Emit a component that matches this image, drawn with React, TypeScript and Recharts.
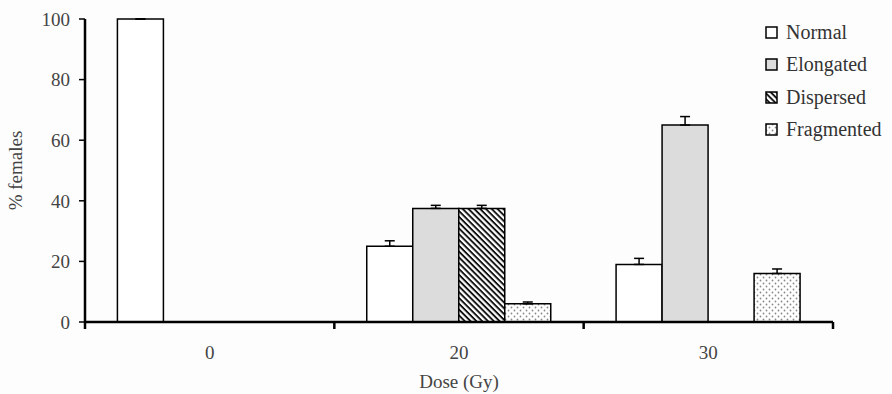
import React from 'react';
import { BarChart, Bar, XAxis, YAxis, ErrorBar, Label } from 'recharts';

const categories = ['0', '20', '30'];
const normal = [100, 25, 19];
const normalErr = [0, 1.8, 2];
const elongated = [null, 37.5, 65];
const elongatedErr = [0, 1, 2.8];
const dispersed = [null, 37.5, null];
const dispersedErr = [0, 1, 0];
const fragmented = [null, 6, 16];
const fragmentedErr = [0, 0.6, 1.5];
const yTicks = [0, 20, 40, 60, 80, 100];
const seriesNames = ['Normal', 'Elongated', 'Dispersed', 'Fragmented'];

const data = categories.map((c, i) => ({
  dose: c,
  Normal: normal[i],
  NormalErr: [0, normalErr[i]],
  Elongated: elongated[i],
  ElongatedErr: [0, elongatedErr[i]],
  Dispersed: dispersed[i],
  DispersedErr: [0, dispersedErr[i]],
  Fragmented: fragmented[i],
  FragmentedErr: [0, fragmentedErr[i]],
}));

const W = 892;
const H = 394;
const MARGIN = { top: 19, right: 59, left: 0, bottom: 0 };
const Y_AXIS_W = 85;
const X_AXIS_H = 72;
const PLOT_W = W - MARGIN.left - MARGIN.right - Y_AXIS_W;
const BAND = PLOT_W / categories.length;
const FONT = '"Liberation Serif", "Times New Roman", serif';

const fills: Record<string, string> = {
  Normal: '#ffffff',
  Elongated: '#dcdcdc',
  Dispersed: 'url(#hatch)',
  Fragmented: 'url(#dots)',
};

const PatternDefs = ({ suffix = '' }: { suffix?: string }) => (
  <defs>
    <pattern id={'hatch' + suffix} patternUnits="userSpaceOnUse" width="6" height="4.1" patternTransform="rotate(45)">
      <rect x="0" y="0" width="6" height="4.1" fill="#ffffff" />
      <rect x="0" y="0" width="6" height="1.9" fill="#111111" />
    </pattern>
    <pattern id={'dots' + suffix} patternUnits="userSpaceOnUse" width="6" height="6">
      <rect x="0" y="0" width="6" height="6" fill="#ffffff" />
      <circle cx="1.5" cy="1.5" r="0.9" fill="#8a8a8a" />
      <circle cx="4.5" cy="4.5" r="0.9" fill="#8a8a8a" />
    </pattern>
  </defs>
);

const XTick = (props: any) => {
  const { x, y, payload, index } = props;
  const half = BAND / 2;
  return (
    <g>
      {index === 0 && <line x1={x - half} x2={x - half} y1={y} y2={y + 7} stroke="#000" strokeWidth={2.5} />}
      <line x1={x + half} x2={x + half} y1={y} y2={y + 7} stroke="#000" strokeWidth={2.5} />
      <text x={x} y={y + 33} textAnchor="middle" dominantBaseline="middle" fontSize={19} fontFamily={FONT} fill="#444">
        {payload.value}
      </text>
    </g>
  );
};

const LegendBox = () => (
  <div style={{ position: 'absolute', left: 765, top: 16, fontFamily: FONT, fontSize: 20, color: '#333' }}>
    {seriesNames.map((n, i) => (
      <div key={n} style={{ display: 'flex', alignItems: 'center', height: 32.5, whiteSpace: 'nowrap' }}>
        <svg width={13} height={13} style={{ marginRight: 8 }}>
          <PatternDefs suffix={'L' + i} />
          <rect
            x={1}
            y={1}
            width={11}
            height={11}
            fill={n === 'Dispersed' ? `url(#hatchL${i})` : n === 'Fragmented' ? `url(#dotsL${i})` : fills[n]}
            stroke="#000"
            strokeWidth={1.5}
          />
        </svg>
        <span>{n}</span>
      </div>
    ))}
  </div>
);

export default function App() {
  return (
    <div style={{ position: 'absolute', left: 0, top: 0, width: W, height: H, background: '#fdfdfd', overflow: 'hidden' }}>
      <BarChart width={W} height={H} data={data} margin={MARGIN} barCategoryGap="13%" barGap={0}>
        <PatternDefs />
        <XAxis
          dataKey="dose"
          height={X_AXIS_H}
          axisLine={{ stroke: '#000', strokeWidth: 2.5 }}
          tickLine={false}
          tickSize={0}
          tickMargin={0}
          tick={<XTick />}
          interval={0}
        >
          <Label value="Dose (Gy)" position="insideBottom" offset={6} style={{ fontFamily: FONT, fontSize: 19, fill: '#444' }} />
        </XAxis>
        <YAxis
          width={Y_AXIS_W}
          domain={[0, 100]}
          ticks={yTicks}
          interval={0}
          axisLine={{ stroke: '#000', strokeWidth: 2.5 }}
          tickLine={{ stroke: '#000', strokeWidth: 1.5 }}
          tickSize={6}
          tickMargin={9}
          tick={{ fontFamily: FONT, fontSize: 19, fill: '#444' }}
        >
          <Label
            content={(p: any) => {
              const vb = p.viewBox || { x: 0, y: 19, height: 303 };
              const cx = vb.x + 18;
              const cy = vb.y + vb.height / 2;
              return (
                <text x={cx} y={cy} transform={`rotate(-90, ${cx}, ${cy})`} textAnchor="middle" dominantBaseline="middle" fontSize={19} fontFamily={FONT} fill="#444">
                  % females
                </text>
              );
            }}
          />
        </YAxis>
        {seriesNames.map((n) => (
          <Bar key={n} dataKey={n} fill={fills[n]} stroke="#000" strokeWidth={1.5} isAnimationActive={false}>
            <ErrorBar dataKey={n + 'Err'} width={5} stroke="#000" strokeWidth={1.5} direction="y" />
          </Bar>
        ))}
      </BarChart>
      <LegendBox />
    </div>
  );
}
